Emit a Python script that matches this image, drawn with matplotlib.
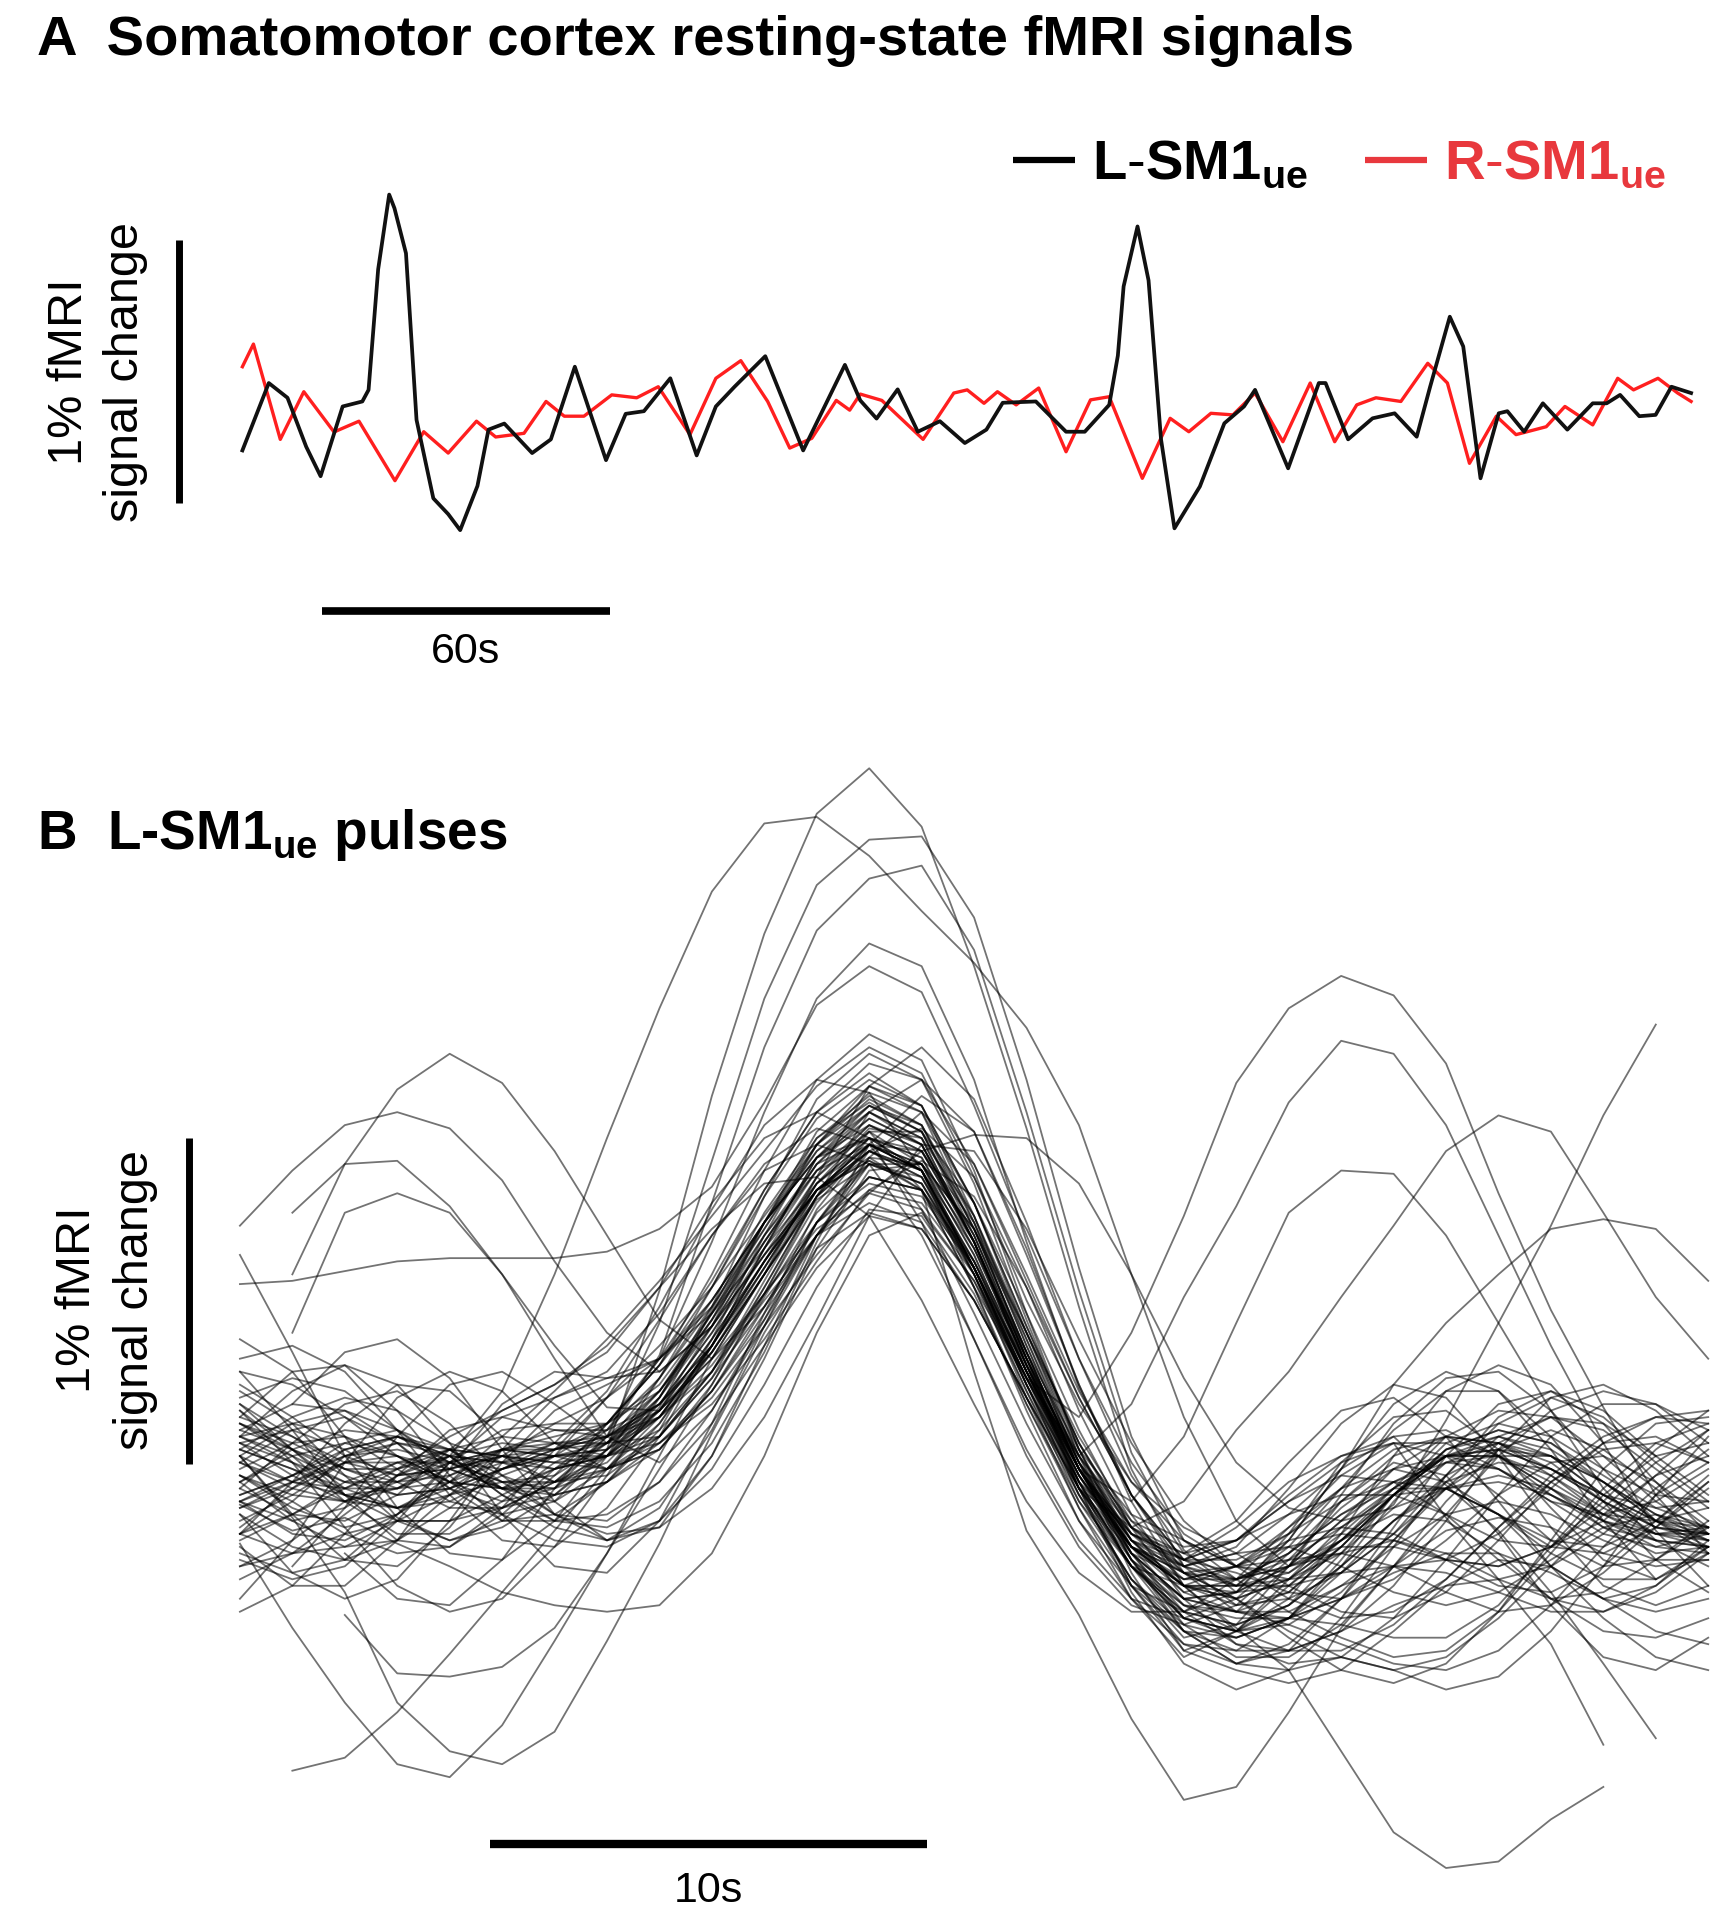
import numpy as np
import matplotlib
matplotlib.use("Agg")
import matplotlib.pyplot as plt

plt.rcParams['font.family'] = ['Liberation Sans', 'DejaVu Sans']
plt.rcParams['mathtext.fontset'] = 'custom'
plt.rcParams['mathtext.rm'] = 'Liberation Sans'
plt.rcParams['mathtext.bf'] = 'Liberation Sans:bold'

# ---- panel A: resting-state signals (time in s, signal in % change) ----
lsm1_t = [0, 5.5, 9.4, 13.3, 16.3, 20.9, 25.0, 26.3, 28.3, 30.6, 31.7, 34.1, 36.3, 39.8, 42.9,
          45.4, 49.0, 51.3, 54.6, 60.4, 64.3, 69.3, 75.8, 79.9, 83.7, 89.2, 94.7, 98.7, 102.6, 109.0,
          116.9, 125.6, 128.8, 132.2, 136.6, 140.8, 145.4, 150.6, 155.1, 158.5, 165.4, 171.7, 175.6, 180.7, 182.5,
          183.7, 186.6, 188.9, 191.5, 194.3, 199.6, 204.7, 208.8, 211.1, 218.0, 224.4, 225.8, 230.5, 235.6, 240.2,
          244.8, 247.6, 251.7, 254.5, 258.1, 261.9, 263.7, 267.2, 271.1, 276.2, 281.5, 284.4, 287.2, 291.2, 294.6,
          297.9, 302.0]
lsm1_v = [-0.13, 0.126, 0.07, -0.116, -0.228, 0.037, 0.056, 0.10, 0.558, 0.842, 0.79, 0.619, -0.014, -0.312, -0.372,
          -0.433, -0.265, -0.051, -0.028, -0.14, -0.088, 0.188, -0.167, 0.009, 0.019, 0.144, -0.149, 0.037, 0.112, 0.228,
          -0.13, 0.195, 0.06, -0.009, 0.102, -0.059, -0.019, -0.102, -0.051, 0.051, 0.056, -0.059, -0.059, 0.043, 0.23,
          0.493, 0.721, 0.516, -0.088, -0.426, -0.267, -0.027, 0.037, 0.1, -0.198, 0.126, 0.126, -0.088, -0.008, 0.011,
          -0.078, 0.112, 0.378, 0.265, -0.236, 0.011, 0.019, -0.059, 0.049, -0.051, 0.049, 0.049, 0.081, 0.0, 0.005,
          0.112, 0.088]
rsm1_t = [0, 2.3, 7.9, 12.8, 19.1, 24.3, 31.8, 37.8, 42.9, 48.8, 52.8, 58.7, 63.3, 67.1, 71.2,
          77.0, 82.2, 86.7, 93.3, 98.7, 103.9, 109.5, 114.1, 118.7, 123.8, 126.6, 128.8, 133.3, 141.9, 148.3,
          151.1, 154.6, 157.4, 161.3, 166.0, 171.7, 176.8, 180.7, 187.6, 193.4, 197.3, 201.9, 206.5, 211.1, 216.9,
          222.6, 227.7, 232.3, 236.3, 241.5, 247.1, 251.2, 255.8, 261.4, 265.5, 271.8, 275.7, 281.5, 286.7, 290.0,
          295.1, 299.2, 302.0]
rsm1_v = [0.188, 0.274, -0.088, 0.093, -0.06, -0.019, -0.245, -0.059, -0.14, -0.019, -0.079, -0.065, 0.056, 0.0, 0.0,
          0.081, 0.07, 0.112, -0.07, 0.144, 0.211, 0.056, -0.121, -0.084, 0.06, 0.023, 0.084, 0.06, -0.088, 0.088,
          0.1, 0.049, 0.093, 0.043, 0.107, -0.135, 0.062, 0.074, -0.236, -0.008, -0.059, 0.011, 0.005, 0.088, -0.097,
          0.126, -0.097, 0.043, 0.07, 0.056, 0.201, 0.126, -0.179, 0.0, -0.07, -0.04, 0.037, -0.033, 0.144, 0.1,
          0.144, 0.088, 0.056]

# ---- panel B: pulse-locked segments, sampled every 1.2 s around the peak ----
pulse_t = [-14.4, -13.2, -12.0, -10.8, -9.6, -8.4, -7.2, -6.0, -4.8, -3.6, -2.4, -1.2, 0.0, 1.2, 2.4,
           3.6, 4.8, 6.0, 7.2, 8.4, 9.6, 10.8, 12.0, 13.2, 14.4, 15.6, 16.8, 18.0, 19.2]

core_pulses = [
    [0.10, 0.02, -0.08, -0.12, -0.04, 0.10, 0.24, 0.40, 0.58, 0.78, 0.98, 1.18, 1.30, 1.22, 0.90, 0.52, 0.20, -0.04, -0.18, -0.26, -0.36, -0.44, -0.46, -0.38, -0.22, -0.04, 0.08, 0.10, 0.02],
    [-0.20, -0.10, 0.04, 0.10, 0.04, -0.08, -0.18, -0.22, -0.16, 0.00, 0.26, 0.56, 0.80, 0.78, 0.54, 0.20, -0.12, -0.36, -0.50, -0.52, -0.46, -0.36, -0.30, -0.28, -0.20, -0.06, 0.08, 0.16, 0.18],
    [0.02, 0.12, 0.16, 0.08, -0.06, -0.16, -0.14, -0.04, 0.08, 0.24, 0.46, 0.72, 0.96, 1.10, 0.94, 0.60, 0.24, -0.04, -0.22, -0.30, -0.34, -0.32, -0.20, -0.02, 0.14, 0.22, 0.16, 0.02, -0.10],
    [-0.28, -0.34, -0.30, -0.16, 0.02, 0.16, 0.22, 0.30, 0.48, 0.72, 0.94, 1.05, 1.00, 0.80, 0.48, 0.14, -0.16, -0.36, -0.44, -0.38, -0.20, 0.02, 0.16, 0.18, 0.06, -0.12, -0.28, -0.34, -0.26],
    [0.24, 0.14, -0.02, -0.16, -0.22, -0.16, -0.02, 0.14, 0.34, 0.58, 0.86, 1.10, 1.25, 1.20, 0.94, 0.58, 0.22, -0.08, -0.30, -0.36, -0.34, -0.26, -0.22, -0.26, -0.34, -0.40, -0.38, -0.28, -0.16],
    [-0.06, 0.08, 0.20, 0.24, 0.14, -0.02, -0.14, -0.16, -0.04, 0.18, 0.44, 0.72, 0.90, 0.86, 0.62, 0.30, 0.00, -0.20, -0.26, -0.16, 0.02, 0.18, 0.22, 0.10, -0.10, -0.30, -0.40, -0.36, -0.22],
    [0.14, 0.04, -0.10, -0.20, -0.20, -0.10, 0.02, 0.10, 0.20, 0.36, 0.60, 0.90, 1.18, 1.30, 1.14, 0.76, 0.34, -0.02, -0.26, -0.34, -0.44, -0.52, -0.58, -0.56, -0.44, -0.26, -0.08, 0.04, 0.08],
    [-0.30, -0.26, -0.20, -0.16, -0.16, -0.12, -0.04, 0.08, 0.24, 0.44, 0.66, 0.86, 0.95, 0.86, 0.56, 0.18, -0.16, -0.40, -0.54, -0.56, -0.46, -0.28, -0.08, 0.08, 0.14, 0.10, 0.00, -0.08, -0.10],
    [0.06, 0.16, 0.22, 0.18, 0.08, 0.02, 0.08, 0.24, 0.50, 0.80, 1.06, 1.20, 1.16, 0.92, 0.56, 0.20, -0.10, -0.30, -0.36, -0.30, -0.22, -0.18, -0.20, -0.28, -0.36, -0.38, -0.30, -0.16, -0.02],
    [-0.14, -0.24, -0.28, -0.22, -0.08, 0.06, 0.12, 0.12, 0.20, 0.38, 0.62, 0.88, 1.05, 1.02, 0.78, 0.42, 0.06, -0.22, -0.38, -0.34, -0.28, -0.26, -0.30, -0.38, -0.44, -0.42, -0.32, -0.18, -0.06],
    [0.30, 0.26, 0.16, 0.04, -0.04, -0.06, 0.00, 0.08, 0.18, 0.34, 0.54, 0.74, 0.85, 0.80, 0.58, 0.28, 0.00, -0.20, -0.28, -0.32, -0.38, -0.40, -0.34, -0.22, -0.08, 0.02, 0.04, -0.04, -0.16],
    [-0.08, -0.02, 0.06, 0.10, 0.06, -0.04, -0.14, -0.20, -0.18, -0.06, 0.16, 0.46, 0.78, 1.00, 0.98, 0.74, 0.40, 0.08, -0.16, -0.30, -0.32, -0.22, -0.06, 0.10, 0.18, 0.16, 0.04, -0.10, -0.20],
    [-0.02, -0.12, -0.18, -0.14, -0.04, 0.06, 0.10, 0.14, 0.26, 0.48, 0.76, 1.02, 1.15, 1.06, 0.74, 0.36, 0.00, -0.28, -0.48, -0.58, -0.58, -0.48, -0.30, -0.10, 0.06, 0.12, 0.06, -0.06, -0.18],
    [0.16, 0.30, 0.32, 0.18, -0.02, -0.16, -0.16, -0.04, 0.14, 0.38, 0.64, 0.86, 0.98, 0.92, 0.68, 0.36, 0.06, -0.14, -0.22, -0.30, -0.40, -0.46, -0.44, -0.34, -0.18, -0.02, 0.10, 0.16, 0.14],
    [-0.22, -0.14, -0.04, 0.02, 0.02, 0.00, 0.04, 0.14, 0.32, 0.56, 0.84, 1.08, 1.20, 1.12, 0.82, 0.44, 0.08, -0.18, -0.32, -0.34, -0.26, -0.14, -0.06, -0.06, -0.14, -0.26, -0.34, -0.34, -0.24],
    [0.04, -0.04, -0.06, 0.00, 0.10, 0.18, 0.26, 0.38, 0.56, 0.74, 0.88, 0.90, 0.78, 0.52, 0.20, -0.10, -0.32, -0.44, -0.44, -0.34, -0.18, -0.02, 0.08, 0.08, 0.00, -0.10, -0.14, -0.10, 0.00],
    [0.20, 0.10, 0.00, -0.06, -0.04, 0.02, 0.04, 0.06, 0.16, 0.38, 0.68, 0.96, 1.10, 1.02, 0.70, 0.30, -0.06, -0.30, -0.42, -0.46, -0.46, -0.40, -0.32, -0.26, -0.26, -0.32, -0.40, -0.44, -0.40],
    [-0.18, -0.06, 0.06, 0.10, 0.04, -0.08, -0.16, -0.14, -0.04, 0.14, 0.38, 0.62, 0.78, 0.74, 0.52, 0.22, -0.06, -0.26, -0.34, -0.30, -0.18, -0.06, 0.00, -0.04, -0.14, -0.24, -0.26, -0.18, -0.04],
    [-0.04, -0.16, -0.24, -0.22, -0.12, 0.00, 0.08, 0.10, 0.16, 0.30, 0.54, 0.84, 1.10, 1.20, 1.04, 0.66, 0.26, -0.08, -0.32, -0.44, -0.44, -0.36, -0.24, -0.14, -0.10, -0.14, -0.22, -0.28, -0.28],
    [0.12, 0.20, 0.18, 0.08, -0.04, -0.10, -0.06, 0.06, 0.24, 0.48, 0.72, 0.92, 1.00, 0.92, 0.64, 0.30, -0.02, -0.24, -0.32, -0.40, -0.50, -0.58, -0.62, -0.58, -0.46, -0.30, -0.14, -0.02, 0.04],
    [-0.10, -0.20, -0.22, -0.14, -0.02, 0.06, 0.06, 0.08, 0.22, 0.50, 0.84, 1.14, 1.28, 1.20, 0.88, 0.46, 0.06, -0.24, -0.42, -0.50, -0.48, -0.38, -0.22, -0.04, 0.10, 0.16, 0.12, 0.00, -0.12],
    [0.26, 0.16, 0.04, -0.02, 0.00, 0.06, 0.08, 0.08, 0.16, 0.32, 0.54, 0.76, 0.88, 0.84, 0.62, 0.32, 0.04, -0.16, -0.24, -0.22, -0.14, -0.08, -0.08, -0.14, -0.22, -0.24, -0.16, -0.02, 0.12],
    [-0.26, -0.32, -0.28, -0.14, 0.02, 0.12, 0.14, 0.14, 0.24, 0.46, 0.76, 1.00, 1.12, 1.04, 0.74, 0.36, 0.00, -0.28, -0.46, -0.50, -0.46, -0.40, -0.30, -0.14, 0.04, 0.18, 0.24, 0.20, 0.08],
    [0.00, 0.08, 0.10, 0.04, -0.04, -0.06, 0.04, 0.22, 0.46, 0.72, 0.92, 1.00, 0.94, 0.72, 0.40, 0.06, -0.22, -0.40, -0.46, -0.40, -0.26, -0.10, 0.04, 0.10, 0.08, 0.00, -0.08, -0.12, -0.10],
    [-0.12, -0.04, 0.02, 0.02, -0.04, -0.14, -0.22, -0.24, -0.16, 0.04, 0.34, 0.68, 0.92, 0.94, 0.74, 0.42, 0.10, -0.16, -0.32, -0.36, -0.36, -0.32, -0.30, -0.32, -0.38, -0.44, -0.44, -0.36, -0.24],
    [0.18, 0.06, -0.08, -0.16, -0.16, -0.08, 0.00, 0.04, 0.08, 0.20, 0.40, 0.64, 0.86, 0.95, 0.84, 0.56, 0.22, -0.08, -0.28, -0.22, -0.10, -0.02, -0.04, -0.14, -0.28, -0.40, -0.44, -0.38, -0.26],
    [-0.04, 0.06, 0.12, 0.10, 0.02, -0.04, -0.02, 0.08, 0.28, 0.56, 0.86, 1.10, 1.22, 1.12, 0.78, 0.38, 0.02, -0.24, -0.38, -0.44, -0.46, -0.48, -0.52, -0.52, -0.42, -0.24, -0.06, 0.08, 0.14],
    [-0.34, -0.26, -0.14, -0.02, 0.04, 0.02, -0.04, -0.02, 0.10, 0.30, 0.52, 0.72, 0.82, 0.76, 0.52, 0.22, -0.06, -0.28, -0.40, -0.44, -0.48, -0.54, -0.60, -0.62, -0.56, -0.42, -0.24, -0.08, 0.02],
    [0.08, -0.02, -0.10, -0.12, -0.06, 0.04, 0.14, 0.22, 0.34, 0.52, 0.76, 0.96, 1.06, 0.98, 0.70, 0.34, 0.00, -0.26, -0.40, -0.38, -0.30, -0.24, -0.24, -0.28, -0.30, -0.24, -0.10, 0.06, 0.18],
    [-0.16, -0.08, 0.02, 0.08, 0.06, -0.02, -0.08, -0.04, 0.12, 0.40, 0.72, 1.00, 1.16, 1.10, 0.82, 0.44, 0.08, -0.20, -0.34, -0.30, -0.24, -0.20, -0.22, -0.28, -0.30, -0.24, -0.12, 0.02, 0.12],
    [0.10, 0.04, -0.04, -0.08, -0.06, 0.00, 0.06, 0.14, 0.32, 0.60, 0.92, 1.20, 1.34, 1.26, 0.92, 0.48, 0.06, -0.26, -0.46, -0.52, -0.46, -0.30, -0.10, 0.06, 0.12, 0.08, -0.04, -0.16, -0.22],
    [-0.20, -0.26, -0.24, -0.16, -0.08, -0.04, -0.04, 0.00, 0.10, 0.28, 0.50, 0.76, 0.98, 1.05, 0.90, 0.56, 0.18, -0.14, -0.36, -0.42, -0.40, -0.32, -0.20, -0.06, 0.08, 0.16, 0.14, 0.04, -0.08],
    [0.22, 0.28, 0.24, 0.12, 0.00, -0.06, -0.04, 0.04, 0.20, 0.42, 0.66, 0.86, 0.95, 0.88, 0.62, 0.30, 0.02, -0.18, -0.26, -0.22, -0.10, 0.02, 0.08, 0.04, -0.08, -0.22, -0.30, -0.28, -0.18],
    [-0.02, -0.10, -0.20, -0.26, -0.24, -0.14, 0.00, 0.12, 0.28, 0.50, 0.76, 0.96, 1.02, 0.92, 0.62, 0.26, -0.08, -0.34, -0.50, -0.56, -0.56, -0.50, -0.42, -0.36, -0.34, -0.30, -0.20, -0.06, 0.06],
    [0.04, 0.14, 0.18, 0.12, 0.02, -0.06, -0.08, -0.04, 0.06, 0.24, 0.48, 0.72, 0.86, 0.82, 0.60, 0.28, -0.04, -0.30, -0.46, -0.50, -0.42, -0.26, -0.08, 0.06, 0.10, 0.04, -0.08, -0.18, -0.20],
    [-0.30, -0.22, -0.10, 0.00, 0.04, 0.02, 0.00, 0.04, 0.18, 0.44, 0.76, 1.04, 1.18, 1.10, 0.76, 0.34, -0.06, -0.36, -0.54, -0.60, -0.54, -0.40, -0.22, -0.06, 0.04, 0.04, -0.04, -0.16, -0.26],
    [0.14, 0.06, 0.00, 0.00, 0.06, 0.10, 0.08, 0.04, 0.10, 0.30, 0.58, 0.86, 1.00, 0.94, 0.66, 0.30, -0.02, -0.24, -0.30, -0.26, -0.24, -0.30, -0.38, -0.42, -0.38, -0.28, -0.18, -0.14, -0.18],
    [-0.06, -0.14, -0.16, -0.08, 0.06, 0.18, 0.26, 0.36, 0.56, 0.82, 1.02, 1.10, 1.02, 0.76, 0.40, 0.04, -0.24, -0.42, -0.48, -0.42, -0.28, -0.12, 0.00, 0.04, 0.00, -0.10, -0.20, -0.24, -0.20],
    [0.08, 0.02, -0.04, -0.04, 0.02, 0.06, 0.04, 0.00, 0.06, 0.24, 0.50, 0.76, 0.90, 0.86, 0.64, 0.34, 0.04, -0.18, -0.28, -0.28, -0.20, -0.10, -0.04, -0.06, -0.14, -0.22, -0.24, -0.16, -0.04],
    [-0.10, -0.02, 0.08, 0.12, 0.06, -0.06, -0.16, -0.18, -0.10, 0.08, 0.36, 0.70, 1.00, 1.15, 1.04, 0.68, 0.26, -0.10, -0.36, -0.50, -0.56, -0.56, -0.48, -0.34, -0.18, -0.04, 0.06, 0.08, 0.02],
]

wide_pulses = [
    [0.40, 0.30, 0.10, -0.12, -0.26, -0.28, -0.16, 0.04, 0.28, 0.52, 0.76, 0.96, 1.08, 1.00, 0.70, 0.32, -0.02, -0.28, -0.42, -0.44, -0.30, -0.08, 0.14, 0.28, 0.30, 0.18, 0.00, -0.16, -0.24],
    [-0.40, -0.22, 0.02, 0.22, 0.30, 0.24, 0.08, 0.00, 0.06, 0.26, 0.54, 0.82, 1.00, 0.94, 0.66, 0.30, -0.04, -0.30, -0.50, -0.60, -0.62, -0.58, -0.62, -0.68, -0.64, -0.50, -0.30, -0.08, 0.10],
    [0.10, 0.24, 0.32, 0.26, 0.08, -0.14, -0.30, -0.32, -0.16, 0.14, 0.48, 0.80, 1.00, 0.98, 0.76, 0.42, 0.08, -0.18, -0.30, -0.24, -0.06, 0.14, 0.26, 0.22, 0.04, -0.18, -0.36, -0.42, -0.36],
    [-0.14, -0.32, -0.40, -0.34, -0.16, 0.06, 0.22, 0.28, 0.34, 0.48, 0.68, 0.88, 1.00, 0.92, 0.62, 0.26, -0.08, -0.34, -0.52, -0.48, -0.30, -0.10, 0.02, -0.02, -0.20, -0.42, -0.58, -0.62, -0.52],
    [0.30, 0.12, -0.08, -0.22, -0.24, -0.12, 0.06, 0.22, 0.38, 0.56, 0.78, 1.00, 1.14, 1.06, 0.76, 0.38, 0.02, -0.26, -0.44, -0.54, -0.56, -0.50, -0.36, -0.16, 0.06, 0.22, 0.26, 0.18, 0.04],
    [None, -0.30, -0.12, 0.10, 0.26, 0.30, 0.20, 0.08, 0.10, 0.28, 0.56, 0.84, 1.02, 0.98, 0.72, 0.36, 0.00, -0.26, -0.40, -0.38, -0.22, 0.00, 0.20, 0.30, 0.24, 0.06, -0.16, -0.34, None],
    [0.18, 0.02, -0.18, -0.36, -0.44, -0.40, -0.24, -0.02, 0.22, 0.48, 0.74, 0.98, 1.12, 1.04, 0.74, 0.36, 0.00, -0.24, -0.32, -0.40, -0.52, -0.62, -0.66, -0.60, -0.44, -0.22, 0.00, 0.14, 0.16],
    [None, 0.20, 0.36, 0.40, 0.28, 0.06, -0.14, -0.22, -0.12, 0.12, 0.44, 0.76, 0.96, 0.94, 0.70, 0.32, -0.06, -0.38, -0.60, -0.68, -0.62, -0.46, -0.24, -0.02, 0.16, 0.24, 0.18, 0.04, None],
    [-0.24, -0.36, -0.36, -0.22, 0.00, 0.20, 0.30, 0.28, 0.30, 0.44, 0.66, 0.90, 1.06, 1.00, 0.72, 0.34, -0.04, -0.36, -0.56, -0.50, -0.36, -0.22, -0.14, -0.16, -0.26, -0.40, -0.50, -0.52, -0.46],
    [0.04, -0.14, -0.28, -0.30, -0.18, 0.02, 0.18, 0.26, 0.34, 0.50, 0.74, 1.00, 1.18, 1.12, 0.82, 0.42, 0.04, -0.28, -0.50, -0.60, -0.56, -0.40, -0.18, 0.04, 0.20, 0.24, 0.14, -0.04, -0.20],
    [-0.20, -0.04, 0.14, 0.26, 0.24, 0.10, -0.10, -0.22, -0.18, 0.04, 0.38, 0.72, 0.94, 0.94, 0.74, 0.40, 0.02, -0.32, -0.56, -0.62, -0.66, -0.62, -0.50, -0.36, -0.28, -0.30, -0.40, -0.50, -0.54],
    [0.34, 0.38, 0.30, 0.12, -0.08, -0.22, -0.24, -0.12, 0.10, 0.38, 0.68, 0.96, 1.12, 1.06, 0.78, 0.40, 0.04, -0.22, -0.36, -0.36, -0.24, -0.06, 0.12, 0.24, 0.24, 0.10, -0.10, -0.28, -0.38],
    [-0.44, -0.36, -0.20, -0.02, 0.12, 0.16, 0.12, 0.10, 0.18, 0.36, 0.60, 0.84, 0.98, 0.90, 0.60, 0.22, -0.12, -0.40, -0.58, -0.50, -0.34, -0.18, -0.08, -0.06, -0.14, -0.30, -0.46, -0.58, -0.62],
    [None, None, -0.26, -0.40, -0.42, -0.28, -0.06, 0.14, 0.32, 0.52, 0.76, 0.98, 1.10, 1.00, 0.70, 0.32, -0.04, -0.30, -0.46, -0.50, -0.40, -0.20, 0.04, 0.24, 0.32, 0.26, 0.08, None, None],
    [0.20, 0.06, -0.06, -0.12, -0.10, -0.02, 0.04, 0.04, 0.12, 0.30, 0.56, 0.84, 1.04, 1.04, 0.82, 0.48, 0.12, -0.18, -0.40, -0.54, -0.60, -0.58, -0.46, -0.28, -0.08, 0.10, 0.20, 0.20, 0.12],
]

outlier_pulses = [
    [-0.10, -0.04, 0.04, 0.08, 0.04, -0.06, -0.10, 0.06, 0.55, 1.15, 1.65, 2.02, 2.16, 1.98, 1.55, 1.05, 0.50, 0.00, -0.30, -0.42, -0.38, -0.24, -0.08, 0.04, 0.04, -0.06, -0.18, -0.26, -0.24],
    [0.06, 0.00, -0.06, -0.06, 0.04, 0.24, 0.60, 1.02, 1.42, 1.78, 1.99, 2.01, 1.89, 1.72, 1.56, 1.36, 1.06, 0.60, 0.16, -0.16, -0.30, -0.26, -0.12, 0.02, 0.08, 0.04, -0.08, -0.16, -0.18],
    [-0.12, -0.06, 0.02, 0.04, 0.00, -0.06, -0.06, 0.10, 0.45, 0.95, 1.45, 1.80, 1.94, 1.95, 1.70, 1.20, 0.62, 0.10, -0.22, -0.34, -0.30, -0.16, 0.00, 0.10, 0.08, -0.02, -0.14, -0.22, -0.24],
    [0.08, 0.12, 0.06, -0.04, -0.12, -0.12, -0.04, 0.10, 0.35, 0.82, 1.30, 1.66, 1.82, 1.86, 1.60, 1.10, 0.55, 0.05, -0.25, -0.38, -0.36, -0.24, -0.08, 0.04, 0.08, 0.02, -0.10, -0.20, -0.24],
    [-0.02, -0.08, -0.10, -0.04, 0.04, 0.08, 0.06, 0.12, 0.34, 0.70, 1.10, 1.45, 1.62, 1.55, 1.20, 0.70, 0.25, -0.08, -0.28, -0.36, -0.32, -0.20, -0.06, 0.04, 0.06, 0.00, -0.10, -0.18, -0.22],
    [0.02, -0.04, -0.08, -0.06, 0.00, 0.04, 0.02, 0.00, 0.08, 0.22, 0.44, 0.66, 0.85, 0.98, 1.03, 1.02, 0.88, 0.60, 0.28, 0.02, -0.12, -0.16, -0.12, -0.06, -0.04, -0.08, -0.16, -0.22, -0.24],
    [None, 0.60, 0.94, 1.17, 1.28, 1.19, 0.98, 0.72, 0.46, 0.34, 0.50, 0.72, 0.90, 0.86, 0.60, 0.26, -0.04, -0.24, -0.34, -0.34, -0.26, -0.14, -0.04, 0.02, 0.00, -0.08, -0.16, -0.20, -0.18],
    [0.75, 0.92, 1.06, 1.10, 1.05, 0.89, 0.64, 0.42, 0.30, 0.44, 0.70, 0.94, 1.10, 1.02, 0.70, 0.32, 0.00, -0.22, -0.30, -0.26, -0.14, 0.00, 0.10, 0.12, 0.04, -0.08, -0.18, -0.22, None],
    [None, 0.79, 0.94, 0.95, 0.81, 0.60, 0.38, 0.19, 0.18, 0.34, 0.60, 0.86, 1.00, 0.92, 0.62, 0.28, -0.02, -0.24, -0.36, -0.40, -0.34, -0.22, -0.08, 0.04, 0.10, 0.06, -0.04, -0.14, -0.20],
    [None, 0.42, 0.79, 0.85, 0.79, 0.60, 0.34, 0.10, 0.02, 0.18, 0.46, 0.76, 0.94, 0.90, 0.64, 0.30, 0.00, -0.22, -0.32, -0.30, -0.20, -0.06, 0.06, 0.10, 0.04, -0.06, -0.14, -0.16, -0.12],
    [0.66, 0.36, 0.04, -0.15, -0.22, -0.18, -0.08, 0.06, 0.22, 0.44, 0.70, 0.94, 1.08, 1.00, 0.70, 0.34, 0.02, -0.22, -0.36, -0.40, -0.34, -0.22, -0.08, 0.02, 0.04, -0.02, -0.12, -0.20, -0.22],
    [0.57, 0.58, 0.61, 0.64, 0.65, 0.65, 0.65, 0.67, 0.74, 0.87, 1.13, 1.43, 1.55, 1.47, 1.12, 0.72, 0.34, 0.02, -0.20, -0.30, -0.28, -0.18, -0.06, 0.04, 0.06, 0.00, -0.10, -0.18, -0.20],
    [None, -0.93, -0.89, -0.75, -0.57, -0.38, -0.19, 0.00, 0.19, 0.49, 0.79, 1.02, 1.13, 1.04, 0.72, 0.34, 0.00, -0.24, -0.36, -0.38, -0.30, -0.16, -0.04, 0.04, 0.04, -0.04, -0.14, -0.20, -0.20],
    [-0.23, -0.49, -0.72, -0.91, -0.95, -0.79, -0.53, -0.26, 0.04, 0.34, 0.60, 0.83, 0.94, 0.88, 0.62, 0.28, -0.02, -0.26, -0.40, -0.44, -0.38, -0.24, -0.08, 0.06, 0.12, 0.08, -0.02, -0.12, -0.18],
    [0.04, -0.15, -0.38, -0.72, -0.87, -0.91, -0.81, -0.53, -0.23, 0.11, 0.42, 0.68, 0.79, 0.74, 0.52, 0.22, -0.08, -0.30, -0.44, -0.48, -0.42, -0.30, -0.16, -0.04, 0.02, 0.00, -0.08, -0.16, -0.20],
    [-0.11, -0.19, -0.15, -0.23, -0.30, -0.38, -0.42, -0.44, -0.42, -0.26, 0.04, 0.42, 0.72, 0.79, 0.58, 0.24, -0.10, -0.34, -0.48, -0.52, -0.46, -0.32, -0.16, -0.02, 0.06, 0.04, -0.04, -0.14, -0.22],
    [None, None, -0.45, -0.63, -0.64, -0.61, -0.49, -0.26, 0.00, 0.26, 0.53, 0.79, 0.94, 0.88, 0.60, 0.26, -0.06, -0.30, -0.44, -0.48, -0.42, -0.30, -0.16, -0.06, -0.02, -0.06, -0.16, -0.24, -0.26],
    [-0.10, -0.16, -0.12, -0.02, 0.06, 0.04, -0.04, 0.02, 0.18, 0.40, 0.64, 0.86, 0.96, 0.86, 0.56, 0.28, 0.16, 0.42, 0.78, 1.19, 1.42, 1.52, 1.46, 1.25, 0.85, 0.49, 0.19, -0.08, -0.26],
    [0.14, 0.08, 0.00, -0.04, -0.02, 0.04, 0.06, 0.10, 0.24, 0.46, 0.70, 0.92, 1.04, 0.94, 0.62, 0.28, 0.04, 0.20, 0.53, 0.81, 1.13, 1.32, 1.28, 1.06, 0.72, 0.38, 0.08, -0.19, -0.36],
    [-0.04, 0.04, 0.08, 0.04, -0.06, -0.12, -0.08, 0.04, 0.22, 0.46, 0.72, 0.94, 1.02, 0.92, 0.60, 0.24, -0.06, -0.18, -0.10, 0.12, 0.30, 0.53, 0.75, 0.98, 1.09, 1.04, 0.79, 0.53, 0.34],
    [0.06, 0.00, -0.08, -0.12, -0.08, 0.00, 0.06, 0.10, 0.20, 0.38, 0.62, 0.86, 1.00, 0.92, 0.62, 0.26, -0.04, -0.20, -0.30, -0.34, -0.30, -0.22, -0.11, 0.15, 0.45, 0.75, 1.09, 1.37, None],
    [-0.20, -0.14, -0.06, 0.02, 0.06, 0.04, 0.00, 0.04, 0.16, 0.36, 0.60, 0.84, 0.98, 0.92, 0.64, 0.30, 0.00, -0.10, 0.10, 0.45, 0.79, 0.92, 0.91, 0.72, 0.45, 0.18, -0.06, -0.22, -0.30],
    [0.10, 0.14, 0.10, 0.00, -0.10, -0.14, -0.10, 0.00, 0.16, 0.38, 0.64, 0.88, 1.02, 0.96, 0.68, 0.32, 0.00, -0.24, -0.36, -0.36, -0.22, 0.00, 0.26, 0.45, 0.60, 0.74, 0.77, 0.74, 0.58],
    [0.02, -0.06, -0.10, -0.06, 0.02, 0.06, 0.04, 0.06, 0.18, 0.40, 0.64, 0.86, 0.98, 0.90, 0.62, 0.28, -0.06, -0.24, -0.36, -0.49, -0.62, -0.87, -1.12, -1.23, -1.21, -1.08, -0.98, None, None],
    [0.16, 0.10, 0.02, -0.02, 0.00, 0.04, 0.02, 0.04, 0.16, 0.38, 0.64, 0.90, 1.04, 0.86, 0.30, -0.19, -0.45, -0.77, -1.02, -0.98, -0.75, -0.49, -0.30, -0.19, -0.15, -0.18, -0.26, -0.30, -0.28],
    [-0.08, -0.02, 0.04, 0.06, 0.02, -0.04, -0.06, 0.00, 0.14, 0.36, 0.62, 0.88, 1.02, 0.96, 0.68, 0.32, 0.00, -0.22, -0.28, -0.18, -0.04, 0.04, 0.08, -0.15, -0.34, -0.54, -0.85, None, None],
    [0.12, 0.06, -0.02, -0.08, -0.06, 0.00, 0.04, 0.08, 0.20, 0.42, 0.68, 0.92, 1.06, 0.98, 0.70, 0.34, 0.02, -0.20, -0.28, -0.22, -0.08, 0.04, 0.10, -0.05, -0.19, -0.38, -0.60, -0.83, None],
]

all_pulses = core_pulses + wide_pulses + outlier_pulses
bad = [i for i, p in enumerate(all_pulses) if len(p) != len(pulse_t)]
if bad:
    raise ValueError('pulse length mismatch: %s' % bad)

W, H = 1720, 1920
fig = plt.figure(figsize=(W / 100, H / 100), dpi=100, facecolor='white')

def px_axes(l, t, r, b):
    ax = fig.add_axes([l / W, 1 - b / H, (r - l) / W, (b - t) / H])
    ax.set_axis_off()
    return ax

def ftext(x, y, s, **kw):
    fig.text(x / W, 1 - y / H, s, **kw)

# ---------------- panel A ----------------
a_x0, a_sx = 242.4, 4.797      # px of t=0, px per second
a_y0, a_sy = 416.2, 263.2      # px of 0 %, px per 1 %
axA = px_axes(150, 120, 1705, 700)
axA.set_xlim((150 - a_x0) / a_sx, (1705 - a_x0) / a_sx)
axA.set_ylim((a_y0 - 700) / a_sy, (a_y0 - 120) / a_sy)

axA.plot(rsm1_t, rsm1_v, color='#ff1f1f', lw=2.4, solid_joinstyle='round')
axA.plot(lsm1_t, lsm1_v, color='#111111', lw=2.7, solid_joinstyle='round')

# scale bars
axA.plot([-13.3, -13.3], [-0.33, 0.67], color='black', lw=5, solid_capstyle='butt')
axA.plot([16.6, 76.6], [-0.74, -0.74], color='black', lw=5.5, solid_capstyle='butt')
axA.text(46.6, -0.895, '60s', ha='center', va='center', fontsize=31)
ftext(70, 372, '1% fMRI', rotation=90, ha='center', va='center', fontsize=35)
ftext(126, 372, 'signal change', rotation=90, ha='center', va='center', fontsize=35)

# title + legend
ftext(37, 55, 'A  Somatomotor cortex resting-state fMRI signals', fontsize=40.4,
      fontweight='bold', ha='left', va='baseline')
axA.plot([(1013 - a_x0) / a_sx, (1075 - a_x0) / a_sx], [(a_y0 - 160) / a_sy] * 2,
         color='black', lw=4.5, solid_capstyle='butt')
axA.plot([(1365 - a_x0) / a_sx, (1427 - a_x0) / a_sx], [(a_y0 - 160) / a_sy] * 2,
         color='#e8383d', lw=4.5, solid_capstyle='butt')
ftext(1092, 179, r'$\mathbf{L\text{-}SM1}_{\mathbf{ue}}$', fontsize=40.5, ha='left', va='baseline')
ftext(1444, 179, r'$\mathbf{R\text{-}SM1}_{\mathbf{ue}}$', fontsize=40.5, ha='left', va='baseline',
      color='#e8383d')

# ---------------- panel B ----------------
b_x0, b_sx = 869.2, 43.7
b_y0, b_sy = 1469.0, 324.4
axB = px_axes(150, 740, 1720, 1920)
axB.set_xlim((150 - b_x0) / b_sx, (1720 - b_x0) / b_sx)
axB.set_ylim((b_y0 - 1920) / b_sy, (b_y0 - 740) / b_sy)

t_arr = np.array(pulse_t)
for p in all_pulses:
    axB.plot(t_arr, np.array(p, dtype=float), color='black', lw=1.3, alpha=0.55)

axB.plot([-15.57, -15.57], [0.015, 1.02], color='black', lw=5, solid_capstyle='butt')
axB.plot([-8.67, 1.33], [-1.156, -1.156], color='black', lw=6, solid_capstyle='butt')
axB.text(-3.67, -1.30, '10s', ha='center', va='center', fontsize=31)
ftext(77, 1300, '1% fMRI', rotation=90, ha='center', va='center', fontsize=35)
ftext(136, 1300, 'signal change', rotation=90, ha='center', va='center', fontsize=35)

ftext(37, 849, r'B  L-SM1$_{\mathbf{ue}}$ pulses', fontsize=39.5, fontweight='bold',
      ha='left', va='baseline')

fig.savefig('out.png', dpi=100, facecolor='white')
